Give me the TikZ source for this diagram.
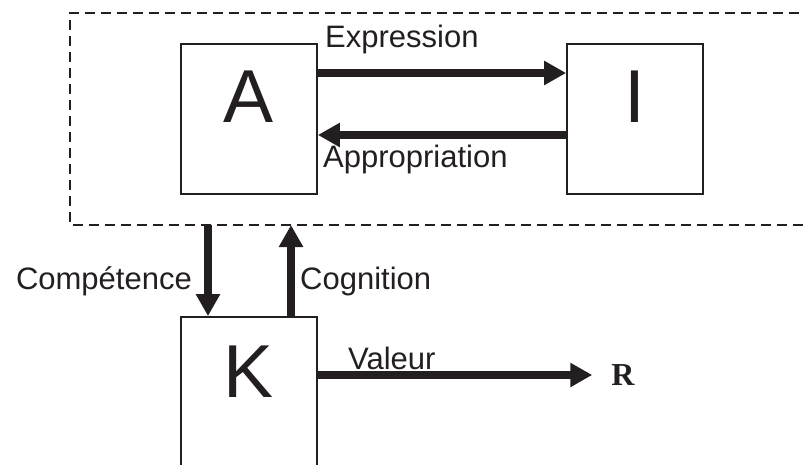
\documentclass[tikz,border=0pt]{standalone}
\usepackage{fontspec}
\setmainfont{Liberation Sans}
\newfontfamily\serifR{Liberation Serif}
\usetikzlibrary{arrows.meta,positioning}
\definecolor{ink}{HTML}{231F20}

\begin{document}
\begin{tikzpicture}[
x=1pt,
y=1pt,
box/.style={
  draw=ink,
  line width=1.8pt,
  minimum width=136pt,
  minimum height=150pt,
  inner sep=0pt
  },
letter/.style={
  anchor=base,
  inner sep=0pt,
  text=ink,
  font=\fontsize{75}{80}\selectfont
  },
lbl/.style={
  inner sep=0pt,
  text=ink,
  font=\fontsize{31}{36}\selectfont
  },
flow/.style={
  draw=ink,
  line width=7.5pt,
  -{Triangle[length=22pt,width=23pt]}
  },
frame/.style={
  draw=ink,
  line width=1.8pt,
  dash pattern=on 10pt off 6pt
  }
]
\clip (0,0) rectangle (803,-465);
% dashed frame, open to the right
\coordinate (frameNW) at (70,-13);
\coordinate (frameSW) at (70,-225);
\draw[frame] (815,-13) -- (frameNW) -- (frameSW) -- (815,-225);
% boxes
\node[box] (A) at (249,-119) {};
\node[box] (I) at (635,-119) {};
\node[box,minimum height=200pt] (K) at (249,-417) {};
\node[letter] (letterA) at (249,-123) {A};
\node[letter] (letterI) at (635,-123) {I};
\node[letter] (letterK) at (249,-397) {K};
\node[inner sep=0pt,text=ink,font=\serifR\bfseries\fontsize{32}{36}\selectfont] (R) at (623,-375) {R};
% arrows
\draw[flow] ([yshift=46pt]A.east) -- ([yshift=46pt]I.west);
\draw[flow] ([yshift=-16pt]I.west) -- ([yshift=-16pt]A.west -| A.east);
\coordinate (compTop) at (208,-225);
\coordinate (cogTop) at (291,-225);
\draw[flow] (compTop) -- (compTop |- K.north);
\draw[flow] (cogTop |- K.north) -- (cogTop);
\draw[flow] (R -| K.east) -- ([xshift=-19pt]R.west);
% labels
\node[lbl,anchor=base west] (expr) at (325,-48) {Expression};
\node[lbl,anchor=base west] (appr) at (323,-168) {Appropriation};
\node[lbl,anchor=base east] (comp) at (192,-289) {Compétence};
\node[lbl,anchor=base west] (cogn) at (300,-289) {Cognition};
\node[lbl,anchor=base west] (val) at (348,-369) {Valeur};
\end{tikzpicture}
\end{document}
